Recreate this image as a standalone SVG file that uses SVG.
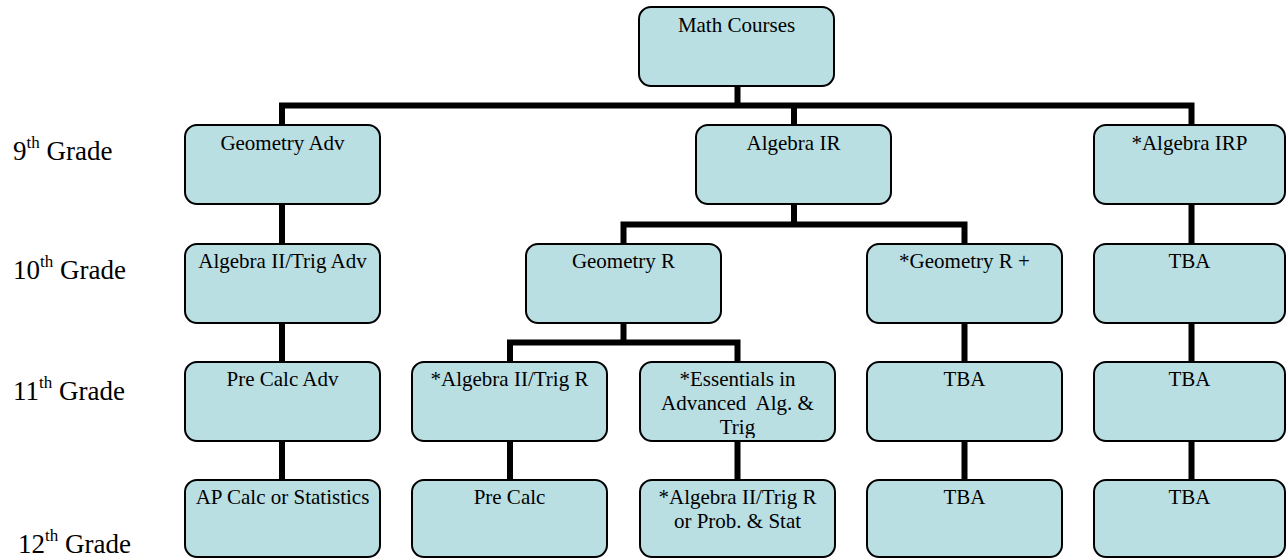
<svg xmlns="http://www.w3.org/2000/svg" width="1286" height="558" viewBox="0 0 1286 558">
<style>
.box{fill:#badfe3;stroke:#000;stroke-width:2}
.t{font-size:21px;fill:#000;text-anchor:middle}
.g{font-size:27px;fill:#000}
.sup{font-size:17px}
.c{stroke:#000;stroke-width:6;fill:none;stroke-linecap:butt;stroke-linejoin:miter}
</style>
<defs>
<clipPath id="clipEss"><rect x="640" y="362" width="195" height="76" rx="12"/></clipPath>
</defs>
<rect width="1286" height="558" fill="#fff"/>
<g id="connectors">
<path class="c" d="M737.5 86V105.5M282 125V105.5H1191.5V125M794 105.5V125"/>
<path class="c" d="M282 204V244M282 323V362M282 441V480"/>
<path class="c" d="M794 204V224.5M623.5 244V224.5H964.5V244"/>
<path class="c" d="M623.5 323V342.5M510 362V342.5H737.5V362"/>
<path class="c" d="M510 441V480M737.5 441V480"/>
<path class="c" d="M964.5 323V362M964.5 441V480"/>
<path class="c" d="M1191.5 204V244M1191.5 323V362M1191.5 441V480"/>
</g>
<g font-family="Liberation Serif, Times New Roman, DejaVu Serif, serif">
<g id="grades">
<text class="g" x="13" y="160">9<tspan class="sup" dy="-12">th</tspan><tspan dy="12"> Grade</tspan></text>
<text class="g" x="13" y="279">10<tspan class="sup" dy="-12">th</tspan><tspan dy="12"> Grade</tspan></text>
<text class="g" x="13" y="400">11<tspan class="sup" dy="-12">th</tspan><tspan dy="12"> Grade</tspan></text>
<text class="g" x="18" y="553">12<tspan class="sup" dy="-12">th</tspan><tspan dy="12"> Grade</tspan></text>
</g>
<g id="math-courses"><rect class="box" x="639" y="7" width="195" height="79" rx="12"/><text class="t" x="736.5" y="32">Math Courses</text></g>
<g id="geometry-adv"><rect class="box" x="185" y="125" width="195" height="79" rx="12"/><text class="t" x="282.5" y="150">Geometry Adv</text></g>
<g id="algebra-ir"><rect class="box" x="696" y="125" width="195" height="79" rx="12"/><text class="t" x="793.5" y="150">Algebra IR</text></g>
<g id="algebra-irp"><rect class="box" x="1094" y="125" width="191" height="79" rx="12"/><text class="t" x="1189.5" y="150">*Algebra IRP</text></g>
<g id="algebra-ii-trig-adv"><rect class="box" x="185" y="244" width="195" height="79" rx="12"/><text class="t" x="282.5" y="268">Algebra II/Trig Adv</text></g>
<g id="geometry-r"><rect class="box" x="526" y="244" width="195" height="79" rx="12"/><text class="t" x="623.5" y="268">Geometry R</text></g>
<g id="geometry-r-plus"><rect class="box" x="867" y="244" width="195" height="79" rx="12"/><text class="t" x="964.5" y="268">*Geometry R +</text></g>
<g id="tba-10"><rect class="box" x="1094" y="244" width="191" height="79" rx="12"/><text class="t" x="1189.5" y="268">TBA</text></g>
<g id="pre-calc-adv"><rect class="box" x="185" y="362" width="195" height="79" rx="12"/><text class="t" x="282.5" y="386">Pre Calc Adv</text></g>
<g id="algebra-ii-trig-r"><rect class="box" x="412" y="362" width="195" height="79" rx="12"/><text class="t" x="509.5" y="386">*Algebra II/Trig R</text></g>
<g id="essentials"><rect class="box" x="640" y="362" width="195" height="79" rx="12"/><text class="t" clip-path="url(#clipEss)"><tspan x="737.5" y="386">*Essentials in</tspan><tspan x="737.5" y="410">Advanced&#160; Alg. &amp;</tspan><tspan x="737.5" y="434">Trig</tspan></text></g>
<g id="tba-11a"><rect class="box" x="867" y="362" width="195" height="79" rx="12"/><text class="t" x="964.5" y="386">TBA</text></g>
<g id="tba-11b"><rect class="box" x="1094" y="362" width="191" height="79" rx="12"/><text class="t" x="1189.5" y="386">TBA</text></g>
<g id="ap-calc"><rect class="box" x="185" y="480" width="195" height="77" rx="12"/><text class="t" x="282.5" y="504">AP Calc or Statistics</text></g>
<g id="pre-calc"><rect class="box" x="412" y="480" width="195" height="77" rx="12"/><text class="t" x="509.5" y="504">Pre Calc</text></g>
<g id="algebra-ii-or-prob"><rect class="box" x="640" y="480" width="195" height="77" rx="12"/><text class="t"><tspan x="737.5" y="504">*Algebra II/Trig R</tspan><tspan x="737.5" y="528">or Prob. &amp; Stat</tspan></text></g>
<g id="tba-12a"><rect class="box" x="867" y="480" width="195" height="77" rx="12"/><text class="t" x="964.5" y="504">TBA</text></g>
<g id="tba-12b"><rect class="box" x="1094" y="480" width="191" height="77" rx="12"/><text class="t" x="1189.5" y="504">TBA</text></g>
</g>
</svg>
